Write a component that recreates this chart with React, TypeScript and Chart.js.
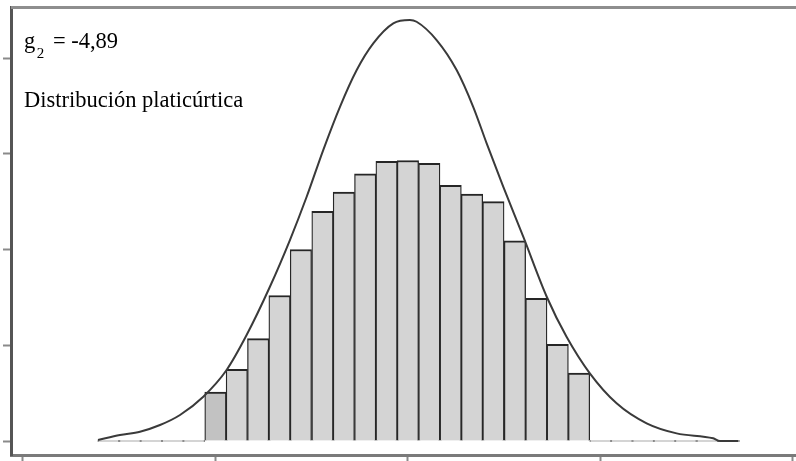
import React, { useEffect, useRef } from "react";
import { Chart, registerables } from "chart.js";

Chart.register(...registerables);

// Histogram bins (centres, in axis units) and their heights
const binCenters = [
  -1.556, -1.444, -1.333, -1.222, -1.111,
  -1.0, -0.889, -0.778, -0.667, -0.556, -0.444, -0.333, -0.222, -0.111,
  0.0, 0.111, 0.222, 0.333, 0.444, 0.556, 0.667, 0.778, 0.889,
  1.0, 1.111, 1.222, 1.333, 1.444, 1.556, 1.667,
];
const binHeights = [
  0, 0, 0, 0, 0,
  0.51, 0.75, 1.07, 1.52, 2.0, 2.4, 2.6, 2.79, 2.92,
  2.93, 2.9, 2.67, 2.58, 2.5, 2.09, 1.49, 1.01, 0.71,
  0, 0, 0, 0, 0, 0, 0,
];

// Normal reference curve
const curveX = [
  -1.61, -1.496, -1.392, -1.288, -1.184, -1.063, -0.942, -0.838, -0.717, -0.613,
  -0.526, -0.44, -0.353, -0.266, -0.18, -0.076, 0.01, 0.045, 0.149, 0.253,
  0.339, 0.409, 0.495, 0.599, 0.721, 0.824, 0.945, 1.084, 1.24, 1.396,
  1.586, 1.621, 1.716,
];
const curveY = [
  0.01, 0.063, 0.097, 0.167, 0.272, 0.463, 0.742, 1.107, 1.611, 2.099,
  2.551, 3.039, 3.491, 3.875, 4.153, 4.362, 4.397, 4.379, 4.188, 3.875,
  3.491, 3.109, 2.656, 2.134, 1.507, 1.089, 0.707, 0.394, 0.185, 0.08,
  0.028, 0.0, 0.0,
];

const xTicks = [-2, -1, 0, 1, 2];
const yTicks = [0, 1, 2, 3, 4];

const statSymbol = "g";
const statSubscript = "2";
const statValue = "= -4,89";
const caption = "Distribución platicúrtica";

const SERIF = '"Liberation Serif", "Times New Roman", Times, serif';

const framePlugin = {
  id: "frameTop",
  afterDraw(chart: any) {
    const { ctx, chartArea } = chart;
    ctx.save();
    ctx.strokeStyle = "#8e8e8e";
    ctx.lineWidth = 3;
    ctx.beginPath();
    ctx.moveTo(chartArea.left, chartArea.top + 0.5);
    ctx.lineTo(chartArea.right, chartArea.top + 0.5);
    ctx.stroke();
    ctx.restore();
  },
};

export default function App() {
  const ref = useRef<HTMLCanvasElement | null>(null);

  useEffect(() => {
    if (!ref.current) return;
    const bars = binCenters.map((x, i) => ({ x, y: binHeights[i] }));
    const firstFilled = binHeights.findIndex((v) => v > 0);
    const curve = curveX.map((x, i) => ({ x, y: curveY[i] }));

    const chart = new Chart(ref.current, {
      type: "bar",
      data: {
        datasets: [
          {
            type: "line",
            data: curve,
            borderColor: "#3a3a3a",
            borderWidth: 2,
            pointRadius: 0,
            fill: false,
            cubicInterpolationMode: "monotone",
            order: 0,
          } as any,
          {
            type: "bar",
            data: bars,
            backgroundColor: (c: any) =>
              c.dataIndex === firstFilled ? "#c2c2c2" : "#d4d4d4",
            borderColor: (c: any) =>
              binHeights[c.dataIndex] === 0 ? "#8a8a8a" : "#262626",
            borderWidth: { top: 2, left: 1.3, right: 1.3, bottom: 0 },
            borderSkipped: "start",
            barPercentage: 1,
            categoryPercentage: 1,
            minBarLength: 2,
            order: 1,
          } as any,
        ],
      },
      options: {
        responsive: false,
        animation: false,
        layout: { padding: { top: 7, left: 0, right: 0, bottom: 0 } },
        plugins: {
          legend: { display: false },
          tooltip: { enabled: false },
        },
        scales: {
          x: {
            type: "linear",
            min: -2.062,
            max: 2.016,
            offset: false,
            afterBuildTicks: (s: any) => {
              s.ticks = xTicks.map((v) => ({ value: v }));
            },
            afterFit: (s: any) => {
              s.height = 6;
            },
            ticks: { display: false },
            grid: {
              display: true,
              offset: false,
              drawOnChartArea: false,
              drawTicks: true,
              tickLength: 6,
              tickColor: "#8a8a8a",
              tickWidth: 2,
            },
            border: { display: true, color: "#7a7a7a", width: 3 },
          },
          y: {
            type: "linear",
            min: -0.146,
            max: 4.533,
            afterBuildTicks: (s: any) => {
              s.ticks = yTicks.map((v) => ({ value: v }));
            },
            afterFit: (s: any) => {
              s.width = 11;
            },
            ticks: { display: false },
            grid: {
              display: true,
              drawOnChartArea: false,
              drawTicks: true,
              tickLength: 8,
              tickColor: "#8a8a8a",
              tickWidth: 2,
            },
            border: { display: true, color: "#555555", width: 3 },
          },
        },
      } as any,
      plugins: [framePlugin],
    });
    return () => chart.destroy();
  }, []);

  const textBase: React.CSSProperties = {
    position: "absolute",
    left: 24,
    margin: 0,
    fontFamily: SERIF,
    fontSize: 22.5,
    lineHeight: "22px",
    color: "#000",
    whiteSpace: "nowrap",
  };

  return (
    <div style={{ position: "fixed", left: 0, top: 0, width: 796, height: 461, background: "#fff" }}>
      <canvas ref={ref} width={796} height={461} style={{ display: "block" }} />
      <div style={{ ...textBase, top: 30 }}>
        {statSymbol}
        <span style={{ fontSize: 15, verticalAlign: "-10px", lineHeight: "15px", marginLeft: 1.5, marginRight: 3 }}>
          {statSubscript}
        </span>
        {" " + statValue}
      </div>
      <div style={{ ...textBase, top: 89 }}>{caption}</div>
    </div>
  );
}
